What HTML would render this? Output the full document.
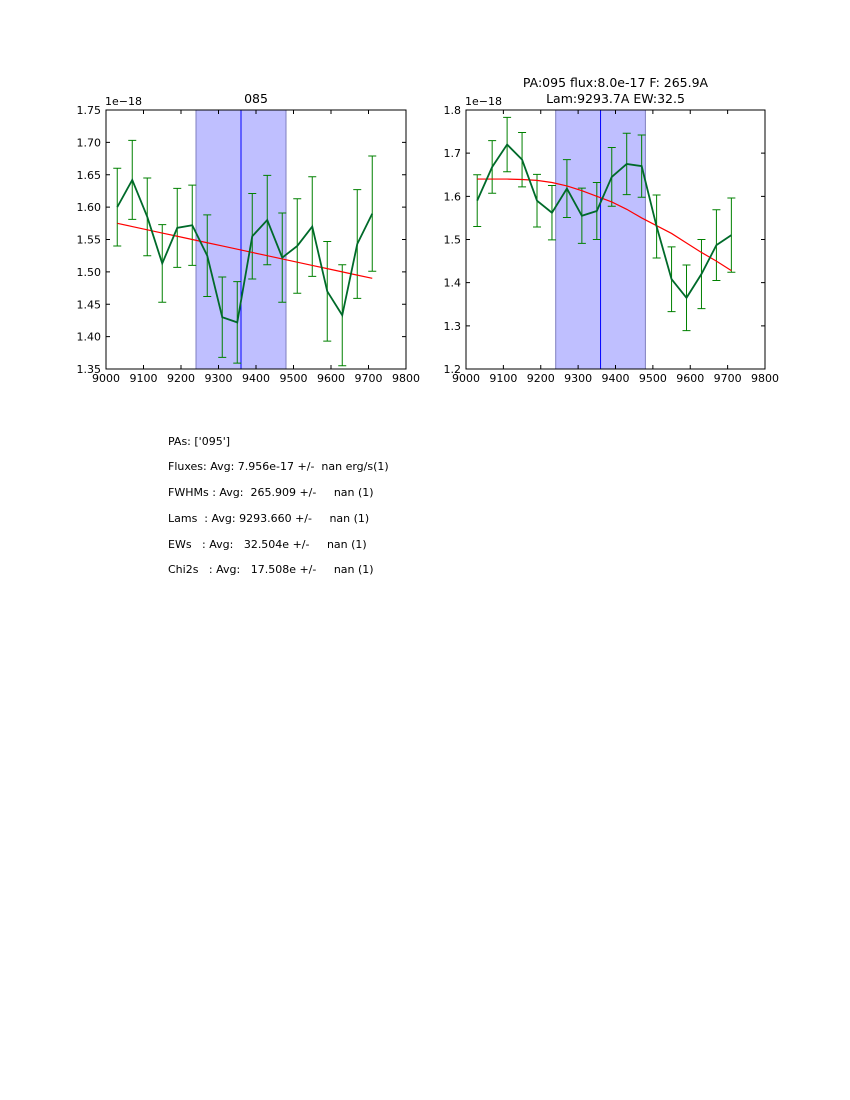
<!DOCTYPE html>
<html><head><meta charset="utf-8"><style>
body{margin:0;background:#fff;width:850px;height:1100px;overflow:hidden;font-family:"DejaVu Sans","Liberation Sans",sans-serif}
svg text{font-family:"DejaVu Sans","Liberation Sans",sans-serif}
.info{position:absolute;left:168px;font-size:11px;white-space:pre;color:#000}
</style></head><body>
<svg id="s" width="850" height="1100" style="position:absolute;left:0;top:0"></svg>
<div class="info" style="top:435px">PAs: ['095']</div>
<div class="info" style="top:460px">Fluxes: Avg: 7.956e-17 +/-  nan erg/s(1)</div>
<div class="info" style="top:486px">FWHMs : Avg:  265.909 +/-     nan (1)</div>
<div class="info" style="top:512px">Lams  : Avg: 9293.660 +/-     nan (1)</div>
<div class="info" style="top:538px">EWs   : Avg:   32.504e +/-     nan (1)</div>
<div class="info" style="top:563px">Chi2s   : Avg:   17.508e +/-     nan (1)</div>
<script>
const waves=[9030,9070,9110,9150,9190,9230,9270,9310,9350,9390,9430,9470,9510,9550,9590,9630,9670,9710];
const leftFlux=[1.600,1.642,1.585,1.513,1.568,1.572,1.525,1.430,1.422,1.555,1.580,1.522,1.540,1.570,1.470,1.433,1.543,1.590];
const leftErr=[0.060,0.061,0.060,0.060,0.061,0.062,0.063,0.062,0.063,0.066,0.069,0.069,0.073,0.077,0.077,0.078,0.084,0.089];
const leftModel=[1.575,1.570,1.565,1.560,1.555,1.550,1.545,1.540,1.535,1.530,1.525,1.520,1.515,1.510,1.505,1.500,1.495,1.490];
const rightFlux=[1.590,1.668,1.720,1.685,1.590,1.562,1.618,1.555,1.566,1.645,1.675,1.670,1.530,1.408,1.365,1.420,1.487,1.510];
const rightErr=[0.060,0.061,0.063,0.063,0.061,0.063,0.067,0.064,0.066,0.068,0.071,0.072,0.073,0.075,0.076,0.080,0.082,0.086];
const rightModel=[1.640,1.640,1.640,1.639,1.637,1.632,1.624,1.613,1.600,1.587,1.570,1.550,1.532,1.514,1.492,1.470,1.450,1.428];
const xTicks=[9000,9100,9200,9300,9400,9500,9600,9700,9800];
const leftYTicks=[1.35,1.40,1.45,1.50,1.55,1.60,1.65,1.70,1.75];
const rightYTicks=[1.2,1.3,1.4,1.5,1.6,1.7,1.8];
const shade=[9240,9480], lineAt=9360;
const NS='http://www.w3.org/2000/svg', svg=document.getElementById('s');
function el(t,a,p){const e=document.createElementNS(NS,t);for(const k in a)e.setAttribute(k,a[k]);(p||svg).appendChild(e);return e;}
function txt(p,x,y,s,anchor,size){const e=el('text',{x:x,y:y,'text-anchor':anchor||'middle','font-size':size||11},p);e.textContent=s;return e;}
function panel(name,L,R,T,B,y0,y1,yt,dec,flux,err,model,titles){
  const g=el('g',{});
  
  
  const X=v=>L+(v-9000)/800*(R-L), Y=v=>B-(v-y0)/(y1-y0)*(B-T);
  const sh=el('rect',{x:X(shade[0]),y:T,width:X(shade[1])-X(shade[0]),height:B-T,fill:'#bfbfff',stroke:'#7f7fbf','stroke-width':1},g);
  
  
  const vl=el('line',{x1:X(lineAt),x2:X(lineAt),y1:T,y2:B,stroke:'#0000ff','stroke-width':1},g);
  
  
  waves.forEach((w,i)=>{
    const x=X(w),a=Y(flux[i]-err[i]),b=Y(flux[i]+err[i]);
    const eb=el('path',{d:`M${x},${a}V${b}M${x-4},${a}H${x+4}M${x-4},${b}H${x+4}`,stroke:'#008000','stroke-width':1,fill:'none'},g);
    
    
  });
  const m=el('polyline',{points:waves.map((w,i)=>X(w)+','+Y(model[i])).join(' '),stroke:'#ff0000','stroke-width':1.2,fill:'none'},g);
  
  
  const d=el('polyline',{points:waves.map((w,i)=>X(w)+','+Y(flux[i])).join(' '),stroke:'#006a2a','stroke-width':1.8,fill:'none'},g);
  
  
  el('rect',{x:L,y:T,width:R-L,height:B-T,fill:'none',stroke:'#000','stroke-width':1},g);
  xTicks.forEach(v=>{const x=X(v);el('path',{d:`M${x},${B}v-4M${x},${T}v4`,stroke:'#000'},g);txt(g,x,B+13,String(v));});
  yt.forEach(v=>{const y=Y(v);el('path',{d:`M${L},${y}h4M${R},${y}h-4`,stroke:'#000'},g);txt(g,L-5,y+4,v.toFixed(dec),'end');});
  txt(g,L-1,T-5,'1e\u221218','start');
  titles.forEach((t,i)=>txt(g,(L+R)/2,T-7-(titles.length-1-i)*16,t,'middle',12.5));
}
panel('left-chart',106,406,110,369,1.35,1.75,leftYTicks,2,leftFlux,leftErr,leftModel,['085']);
panel('right-chart',466,765,110,369,1.2,1.8,rightYTicks,1,rightFlux,rightErr,rightModel,['PA:095 flux:8.0e-17 F: 265.9A','Lam:9293.7A EW:32.5']);
</script>
</body></html>
